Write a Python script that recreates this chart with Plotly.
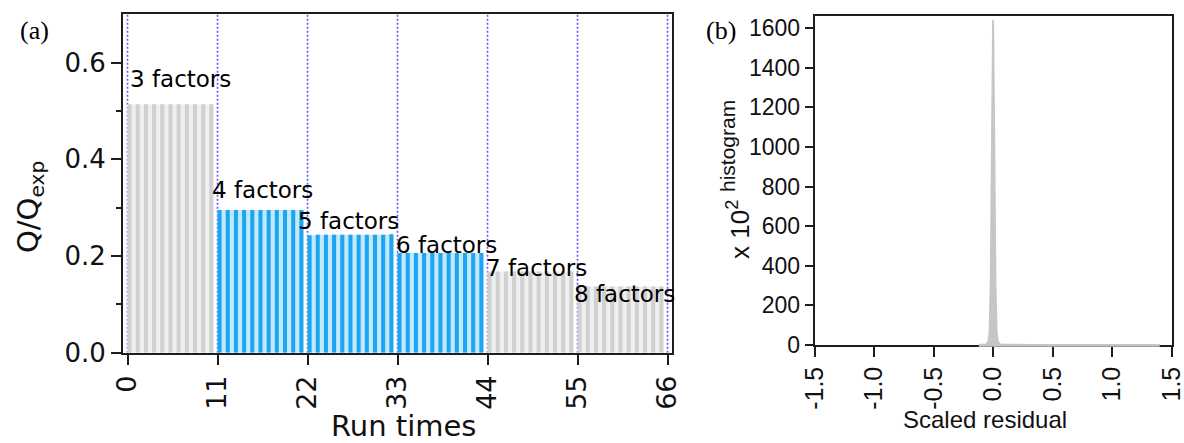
import plotly.graph_objects as go

# ---------------- data ----------------
# (a) Q/Qexp for each PMF run, 11 runs per number of factors
factor_labels = ["3 factors", "4 factors", "5 factors", "6 factors", "7 factors", "8 factors"]
q_3f = [0.514, 0.514, 0.514, 0.514, 0.514, 0.514, 0.514, 0.514, 0.514, 0.514, 0.514]
q_4f = [0.295, 0.295, 0.295, 0.295, 0.295, 0.295, 0.295, 0.295, 0.295, 0.295, 0.295]
q_5f = [0.243, 0.244, 0.244, 0.244, 0.244, 0.244, 0.244, 0.244, 0.244, 0.244, 0.245]
q_6f = [0.206, 0.206, 0.206, 0.206, 0.206, 0.206, 0.206, 0.206, 0.206, 0.206, 0.206]
q_7f = [0.168, 0.168, 0.168, 0.168, 0.168, 0.168, 0.168, 0.168, 0.168, 0.168, 0.168]
q_8f = [0.137, 0.137, 0.137, 0.137, 0.137, 0.137, 0.137, 0.137, 0.137, 0.137, 0.137]
highlighted = [False, True, True, True, False, False]   # 4-6 factor runs in blue
run_ticks = [0, 11, 22, 33, 44, 55, 66]
q_ticks = [0.0, 0.2, 0.4, 0.6]

# (b) histogram of scaled residuals (counts x 10^2)
residual = [-0.12, -0.06, -0.04, -0.03, -0.02, -0.01, 0.0, 0.01, 0.02, 0.03,
            0.04, 0.06, 0.12, 0.3, 0.6, 1.0, 1.4]
count_x100 = [1, 3, 15, 60, 300, 1000, 1640, 1000, 300, 60,
              15, 3, 1, 0.5, 0.3, 0.2, 0.1]
residual_ticks = [-1.5, -1.0, -0.5, 0.0, 0.5, 1.0, 1.5]
count_ticks = [0, 200, 400, 600, 800, 1000, 1200, 1400, 1600]

# ---------------- style ----------------
W, H = 1184, 443
SANS_A = "DejaVu Sans"
SANS_B = "Liberation Sans, Arial"
SERIF = "Liberation Serif, Times New Roman"
GRAY_DARK, GRAY_LIGHT = "#d0d0d0", "#efefef"
BLUE_DARK, BLUE_LIGHT = "#1ca6f2", "#c4e8fb"
HIST_GRAY = "#c6c6c6"
GRID_BLUE = "#5a5aff"
AXIS = "#1e1e1e"


def px_x(p):
    return p / W


def px_y(p):
    return 1 - p / H


groups = [q_3f, q_4f, q_5f, q_6f, q_7f, q_8f]

fig = go.Figure()

# striped bars: a pale background strip and a darker stripe for every run
start = 0
for vals, hi in zip(groups, highlighted):
    n = len(vals)
    idx = list(range(start, start + n))
    light_w = [1.0] * (n - 1) + [0.5]
    fig.add_trace(go.Bar(
        x=[i + w / 2 for i, w in zip(idx, light_w)], y=vals, width=light_w,
        marker=dict(color=BLUE_LIGHT if hi else GRAY_LIGHT, line=dict(width=0)),
        xaxis="x", yaxis="y", showlegend=False, hoverinfo="skip"))
    fig.add_trace(go.Bar(
        x=[i + 0.25 for i in idx], y=vals, width=[0.5] * n,
        marker=dict(color=BLUE_DARK if hi else GRAY_DARK, line=dict(width=0)),
        xaxis="x", yaxis="y", showlegend=False,
        hovertemplate="run %{x:.0f}: %{y}<extra></extra>"))
    start += n

# residual histogram
fig.add_trace(go.Scatter(
    x=residual, y=count_x100, mode="lines", fill="tozeroy",
    line=dict(color=HIST_GRAY, width=2), fillcolor=HIST_GRAY,
    xaxis="x2", yaxis="y2", showlegend=False))

axis_common = dict(showline=True, linecolor=AXIS, mirror=True, zeroline=False,
                   ticks="outside", tickcolor=AXIS, automargin=False)

fig.update_layout(
    template="none",
    width=W, height=H, margin=dict(l=0, r=0, t=0, b=0, pad=0), autosize=False,
    paper_bgcolor="white", plot_bgcolor="white", barmode="overlay",
    xaxis=dict(**axis_common, domain=[px_x(123), px_x(672)], range=[-0.55, 66.55],
               tickvals=run_ticks, ticktext=[str(t) for t in run_ticks], tickangle=-90,
               ticklen=10, tickwidth=2, linewidth=2, showgrid=False,
               tickfont=dict(family=SANS_A, size=27, color="#111")),
    yaxis=dict(**axis_common, domain=[px_y(352.7), px_y(14.3)], range=[0, 0.70],
               tickvals=q_ticks, ticktext=[f"{t:.1f}" for t in q_ticks],
               ticklen=10, tickwidth=2, linewidth=2, showgrid=False,
               minor=dict(tickvals=[0.1, 0.3, 0.5], ticks="outside", ticklen=5,
                          tickwidth=1.5, tickcolor=AXIS, showgrid=False),
               tickfont=dict(family=SANS_A, size=26, color="#111")),
    xaxis2=dict(**axis_common, domain=[px_x(814.5), px_x(1171.7)], range=[-1.5005, 1.5005],
                tickvals=residual_ticks, ticktext=[f"{t:.1f}" for t in residual_ticks],
                tickangle=-90, ticklen=10, tickwidth=1.5, linewidth=1.5,
                ticklabeloverflow="allow",
                showgrid=False, anchor="y2",
                tickfont=dict(family=SANS_B, size=25, color="#111")),
    yaxis2=dict(**axis_common, domain=[px_y(345.0), px_y(15.7)], range=[0, 1663],
                tickvals=count_ticks, ticktext=[str(t) for t in count_ticks],
                ticklen=8, tickwidth=1.5, linewidth=1.5, showgrid=False, anchor="x2",
                tickfont=dict(family=SANS_B, size=23, color="#111")),
)

# dotted blue guides at every block boundary, behind the bars
for t in run_ticks:
    fig.add_shape(type="line", xref="x", yref="y", x0=t, x1=t, y0=0, y1=0.70,
                  layer="below", line=dict(color=GRID_BLUE, width=1.6, dash="2px,2px"))

# the near-zero histogram tail runs along the baseline in grey
fig.add_shape(type="line", xref="x2", yref="paper", x0=min(residual), x1=max(residual),
              y0=px_y(345.6), y1=px_y(345.6), layer="above",
              line=dict(color=HIST_GRAY, width=2.5))

# factor labels above each block of runs
label_pos = [(0.0, 0.566), (10.1, 0.336), (20.6, 0.273), (32.6, 0.223), (43.6, 0.176), (54.3, 0.121)]
for text, (lx, ly) in zip(factor_labels, label_pos):
    fig.add_annotation(x=lx, y=ly, xref="x", yref="y", text=text, showarrow=False,
                       xanchor="left", yanchor="middle",
                       font=dict(family=SANS_A, size=23, color="black"))

paper = dict(xref="paper", yref="paper", showarrow=False, xanchor="center", yanchor="middle")
fig.add_annotation(**paper, x=px_x(34), y=px_y(31), text="(a)",
                   font=dict(family=SERIF, size=26, color="black"))
fig.add_annotation(**paper, x=px_x(721), y=px_y(31), text="(b)",
                   font=dict(family=SERIF, size=26, color="black"))
fig.add_annotation(**paper, x=px_x(30), y=px_y(207), text="Q/Q<sub>exp</sub>", textangle=-90,
                   font=dict(family=SANS_A, size=29, color="#111"))
fig.add_annotation(**paper, x=px_x(403), y=px_y(426), text="Run times",
                   font=dict(family=SANS_A, size=29, color="#111"))
fig.add_annotation(**paper, x=px_x(985), y=px_y(419), text="Scaled residual",
                   font=dict(family=SANS_B, size=24, color="#111"))
fig.add_annotation(**paper, x=px_x(738), y=px_y(230), text="x 10<sup>2</sup>", textangle=-90,
                   font=dict(family=SANS_B, size=26, color="#111"))
fig.add_annotation(**paper, x=px_x(727), y=px_y(146), text="histogram", textangle=-90,
                   font=dict(family=SANS_B, size=21, color="#111"))

fig.write_html("out.html")
